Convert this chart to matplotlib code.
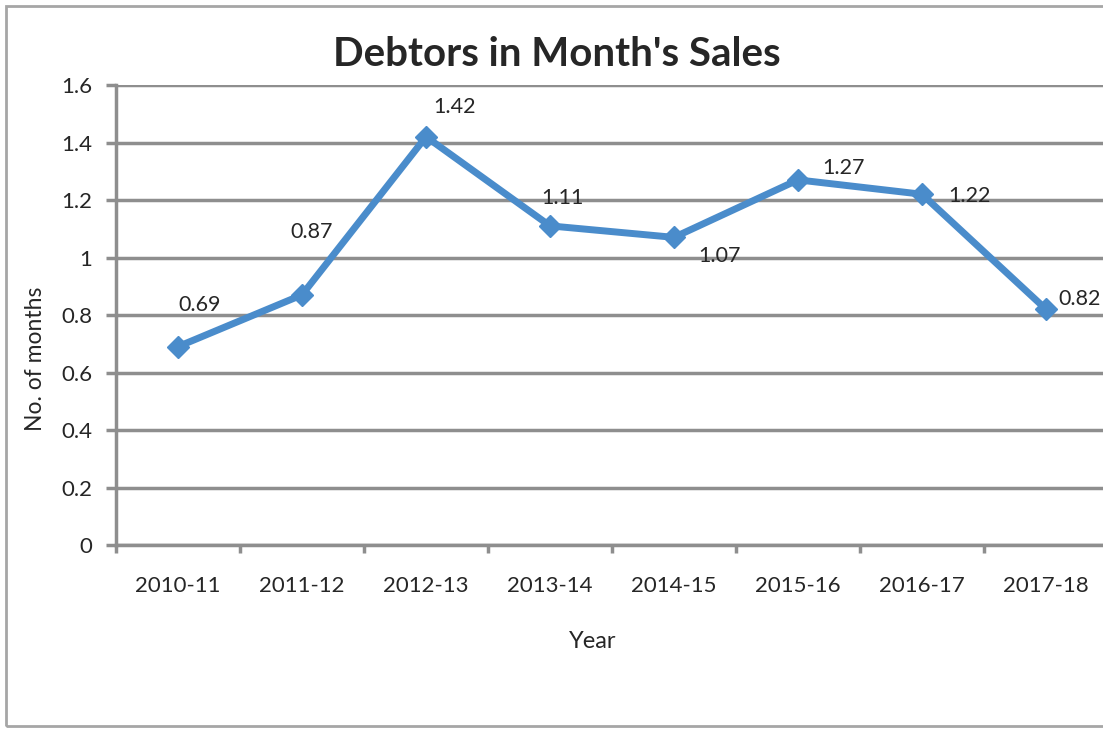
import matplotlib

matplotlib.use("Agg")
import matplotlib.pyplot as plt
from matplotlib.patches import Rectangle

years = ["2010-11", "2011-12", "2012-13", "2013-14", "2014-15", "2015-16", "2016-17", "2017-18"]
months = [0.69, 0.87, 1.42, 1.11, 1.07, 1.27, 1.22, 0.82]
yticks = [0, 0.2, 0.4, 0.6, 0.8, 1.0, 1.2, 1.4, 1.6]
ytick_labels = ["0", "0.2", "0.4", "0.6", "0.8", "1", "1.2", "1.4", "1.6"]

# label offsets in pixels (dx, dy) from each marker
label_offsets = [(22, 42), (10, 63), (29, 30), (12, 28), (46, -19), (46, 12), (47, -2), (34, 10)]

W, H = 1103, 729
line_color = "#4A8CCB"
grid_color = "#8E8E8E"
text_color = "#262626"

plt.rcParams["font.family"] = ["Lato", "DejaVu Sans"]

fig = plt.figure(figsize=(W / 100, H / 100), dpi=100)
fig.patches.append(Rectangle((6 / W, 3 / H), 1.2, (720 / H), transform=fig.transFigure,
                             fill=False, edgecolor="#A6A6A6", linewidth=2))

ax = fig.add_axes([116 / W, (H - 545) / H, (1108 - 116) / W, (545 - 85) / H])
x = list(range(len(years)))
ax.plot(x, months, color=line_color, linewidth=5, marker="D", markersize=11,
        markerfacecolor=line_color, markeredgecolor=line_color, zorder=3, clip_on=False)

for xi, v, (dx, dy) in zip(x, months, label_offsets):
    ax.annotate(f"{v:.2f}", xy=(xi, v), xytext=(dx * 0.72, dy * 0.72), textcoords="offset points",
                ha="center", va="center", fontsize=15.5, color=text_color)

ax.set_xlim(-0.5, 7.5)
ax.set_ylim(0, 1.6)
ax.set_yticks(yticks)
ax.set_yticklabels(ytick_labels)
ax.set_xticks(x)
ax.set_xticklabels(years)
ax.set_xticks([i - 0.5 for i in range(len(years) + 1)], minor=True)

ax.grid(axis="y", color=grid_color, linewidth=2.5)
ax.set_axisbelow(True)
for side in ["top", "right"]:
    ax.spines[side].set_visible(False)
for side in ["left", "bottom"]:
    ax.spines[side].set_color(grid_color)
    ax.spines[side].set_linewidth(2.5)

ax.tick_params(axis="y", length=7, width=2.5, color=grid_color, labelsize=16, labelcolor=text_color, pad=10)
ax.tick_params(axis="x", which="major", length=0, labelsize=16, labelcolor=text_color, pad=22)
ax.tick_params(axis="x", which="minor", length=6, width=2.5, color=grid_color)

fig.text(593 / W, 1 - 641 / H, "Year", ha="center", va="center", fontsize=17, color=text_color)
fig.text(35 / W, 1 - 359 / H, "No. of months", ha="center", va="center", rotation=90,
         fontsize=16.5, color=text_color)
fig.text(557 / W, 1 - 55 / H, "Debtors in Month's Sales", ha="center", va="center",
         fontsize=29, fontweight="bold", color=text_color)

fig.savefig("out.png", dpi=100)
